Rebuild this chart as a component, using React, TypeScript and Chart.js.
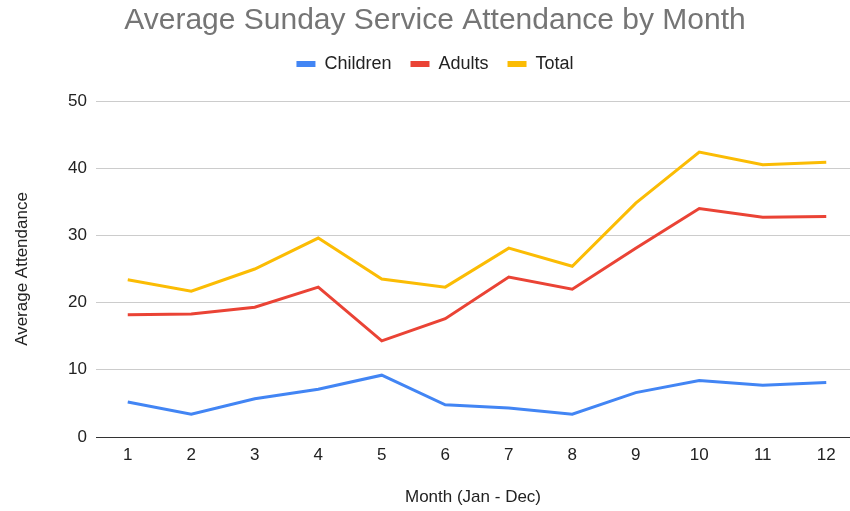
import React, { useEffect, useRef } from "react";
import { Chart, registerables } from "chart.js";

Chart.register(...registerables);

const months = [1, 2, 3, 4, 5, 6, 7, 8, 9, 10, 11, 12];
const children = [5.2, 3.4, 5.7, 7.1, 9.2, 4.8, 4.3, 3.4, 6.6, 8.4, 7.7, 8.1];
const adults = [18.2, 18.3, 19.3, 22.3, 14.3, 17.6, 23.8, 22.0, 28.1, 34.0, 32.7, 32.8];
const total = [23.4, 21.7, 25.0, 29.6, 23.5, 22.3, 28.1, 25.4, 34.8, 42.4, 40.5, 40.9];
const seriesNames = ["Children", "Adults", "Total"];
const seriesColors = ["#4285F4", "#EA4335", "#FBBC04"];
const yTicks = [0, 10, 20, 30, 40, 50];

const FONT = "'Liberation Sans', Arial, sans-serif";

export default function App() {
  const ref = useRef<HTMLCanvasElement | null>(null);

  useEffect(() => {
    document.body.style.margin = "0";
    const canvas = ref.current;
    if (!canvas) return;
    const values = [children, adults, total];
    const chart = new Chart(canvas, {
      type: "line",
      data: {
        datasets: values.map((arr, i) => ({
          label: seriesNames[i],
          data: arr.map((v, j) => ({ x: months[j], y: v })),
          borderColor: seriesColors[i],
          backgroundColor: seriesColors[i],
          borderWidth: 3,
          pointRadius: 0,
          tension: 0,
        })),
      },
      options: {
        animation: false,
        responsive: true,
        maintainAspectRatio: false,
        layout: { padding: { left: 20, right: 0, top: 0, bottom: 0 } },
        font: { family: FONT },
        plugins: {
          title: {
            display: true,
            text: "Average Sunday Service Attendance by Month",
            color: "#757575",
            font: { family: FONT, size: 30, weight: "normal", lineHeight: 1 },
            padding: { top: 6, bottom: 0 },
          },
          subtitle: {
            display: true,
            text: "",
            weight: 500,
            font: { family: FONT, size: 1, lineHeight: 1 },
            padding: { top: 0, bottom: 17 },
          },
          legend: {
            display: true,
            position: "top",
            labels: {
              color: "#222",
              font: { family: FONT, size: 18 },
              boxWidth: 19,
              boxHeight: 6,
              padding: 19,
              generateLabels: (c: any) =>
                Chart.defaults.plugins.legend.labels
                  .generateLabels(c)
                  .map((l: any) => ({ ...l, lineWidth: 0 })),
            },
          },
          tooltip: { enabled: false },
        },
        scales: {
          x: {
            type: "linear",
            min: 0.5,
            max: 12.374,
            afterFit: (s: any) => {
              s.height = 74;
            },
            afterBuildTicks: (s: any) => {
              s.ticks = months.map((m) => ({ value: m }));
            },
            grid: { display: false, drawTicks: false },
            border: { display: false },
            ticks: {
              color: "#222",
              font: { family: FONT, size: 17 },
              padding: 8,
              autoSkip: false,
              maxRotation: 0,
              callback: (v: any) => String(v),
            },
            title: {
              display: true,
              text: "Month (Jan - Dec)",
              color: "#222",
              font: { family: FONT, size: 17 },
              padding: { top: 0, bottom: 3 },
            },
          },
          y: {
            min: 0,
            max: 50,
            afterFit: (s: any) => {
              s.width = 76;
            },
            afterBuildTicks: (s: any) => {
              s.ticks = yTicks.map((t) => ({ value: t }));
            },
            grid: {
              drawTicks: false,
              color: (ctx: any) => (ctx.tick && ctx.tick.value === 0 ? "#333" : "#ccc"),
              lineWidth: 1,
            },
            border: { display: false },
            ticks: {
              color: "#222",
              font: { family: FONT, size: 17 },
              padding: 9,
            },
            title: {
              display: true,
              text: "Average Attendance",
              color: "#222",
              font: { family: FONT, size: 17 },
              padding: { top: -8, bottom: 0 },
            },
          },
        },
      },
    } as any);
    return () => chart.destroy();
  }, []);

  return (
    <div style={{ position: "relative", width: 850, height: 511 }}>
      <canvas ref={ref} />
    </div>
  );
}
